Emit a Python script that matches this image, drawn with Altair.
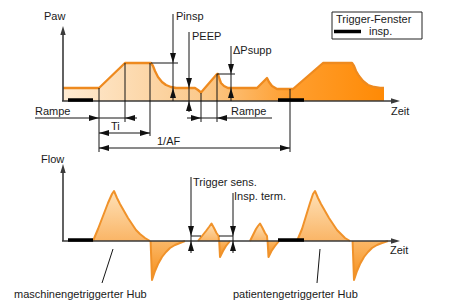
import altair as alt
import pandas as pd

W, H = 450, 304
FONT = "Liberation Sans"

# ---------------- data (diagram units: time -> x, level -> y, screen-down) -------------
# Airway pressure curve
paw_t = [63, 99, 125, 151, 153, 155, 158, 162, 166, 171, 176, 195, 198, 201,
         217, 218, 219.5, 221, 224, 228, 257, 267, 269, 272, 277, 293, 323, 352,
         354, 356, 359, 363, 368, 374, 380, 384]
paw_y = [88, 88, 63, 63, 66, 71, 77, 82, 85, 87, 88, 88, 90, 92.5,
         74, 74, 79, 83, 86, 88, 88, 78, 82, 86, 89, 89, 63, 63,
         66, 71, 76, 81, 85, 87, 88, 88]
paw_base = 101

# Flow curve segments (positive humps / negative lobes)
hump1_t = [93, 98, 103, 108, 112, 114, 117, 120, 124, 128, 132, 136, 140, 145, 150]
hump1_y = [241, 229, 216, 203, 194, 191, 198, 204, 211, 218, 224, 230, 234, 238, 241]
neg1_t = [150.6, 152, 155, 158, 162, 166, 170, 175, 180, 185]
neg1_y = [241, 280, 271, 264, 257, 252, 248, 245, 243, 241]
humpA_t = [198, 202, 206, 209, 211.5, 214, 216.5, 218.6, 219]
humpA_y = [241, 236, 231, 227, 223.5, 228, 233, 236, 241]
negA_t = [219.2, 220, 223, 226, 230]
negA_y = [241, 257, 251, 246, 241]
humpB_t = [250, 253, 256, 258, 260, 262.5, 265, 267, 267.4]
humpB_y = [241, 235, 229, 226, 223.5, 228, 233, 236, 241]
negB_t = [267.6, 268.5, 271.5, 275, 279]
negB_y = [241, 257, 251, 246, 241]
hump2_t = [297, 302, 306, 310, 313, 315, 318, 321, 325, 329, 333, 337, 341, 345, 350]
hump2_y = [241, 229, 216, 203, 194, 191, 198, 204, 211, 218, 224, 230, 234, 238, 241]
neg2_t = [352.6, 354, 357, 360, 364, 368, 372, 377, 382, 388]
neg2_y = [241, 280, 271, 264, 257, 252, 248, 245, 243, 241]
flow_base = 241

# Axes (x, y, x2, y2)
axis_x = [63, 62, 63, 62]
axis_y = [30, 101, 168, 241]
axis_x2 = [63, 395, 63, 395]
axis_y2 = [101, 101, 241, 241]

# Annotation / dimension lines
ann_x = [173, 151, 189, 231, 217, 99, 125, 150, 201, 217, 290, 35, 99, 99, 187,
         191, 191, 233, 219, 113, 320]
ann_y = [14, 63, 32, 46, 74, 88, 63, 63, 93, 74, 89, 118, 133, 148, 118,
         177, 236, 193, 236, 249, 249]
ann_x2 = [173, 178, 189, 231, 235, 99, 125, 150, 201, 217, 290, 137, 150, 290, 272,
          191, 201, 233, 233, 102, 317]
ann_y2 = [101, 63, 112, 101, 74, 152, 122, 136, 122, 122, 152, 118, 133, 148, 118,
          253, 236, 253, 236, 283, 283]

# Trigger windows (black bars)
bar_x = [68, 278, 68, 278, 334]
bar_x2 = [93, 304, 93, 304, 361]
bar_y = [100, 100, 240, 240, 31.5]

# Arrow heads (tip position, direction)
arr_x = [63, 400, 63, 400, 173, 173, 189, 189, 231, 231, 99, 125, 99, 150, 99, 290,
         201, 217, 191, 191, 233, 233]
arr_y = [26, 101, 164, 241, 63, 88, 88, 101, 74, 88, 118, 118, 133, 133, 148, 148,
         118, 118, 236, 241, 236, 241]
arr_dir = ["up", "right", "up", "right", "down", "up", "down", "up", "down", "up",
           "right", "left", "left", "right", "left", "right", "right", "left",
           "down", "up", "down", "up"]
arr_kind = ["axis"] * 4 + ["dim"] * 18

# Labels
lab_text = ["Paw", "Pinsp", "PEEP", "\u0394Psupp", "Rampe", "Ti", "1/AF", "Rampe",
            "Zeit", "Flow", "Trigger sens.", "Insp. term.", "Zeit",
            "maschinengetriggerter Hub", "patientengetriggerter Hub",
            "Trigger-Fenster", "insp."]
lab_x = [44, 176, 192, 233, 35, 111, 157, 231, 391, 41, 193, 234, 390, 14, 233, 336, 369]
lab_y = [17, 17, 37, 51, 112, 127, 142, 112, 112, 160, 183, 197, 251, 295, 295, 20, 32]

# Legend frame
leg_x, leg_y, leg_x2, leg_y2 = [332], [12], [422], [39]

# ---------------- chart ----------------
xs = alt.Scale(domain=[0, W], nice=False, zero=False)
ys = alt.Scale(domain=[0, H], nice=False, zero=False, reverse=True)


def X(f):
    return alt.X(f"{f}:Q", scale=xs, axis=None)


def Y(f):
    return alt.Y(f"{f}:Q", scale=ys, axis=None)


paw = pd.DataFrame({"t": paw_t, "y": paw_y, "base": paw_base})

segs = []
for name, kind, tt, yy in [
    ("h1", "pos", hump1_t, hump1_y), ("n1", "neg", neg1_t, neg1_y),
    ("hA", "pos", humpA_t, humpA_y), ("nA", "neg", negA_t, negA_y),
    ("hB", "pos", humpB_t, humpB_y), ("nB", "neg", negB_t, negB_y),
    ("h2", "pos", hump2_t, hump2_y), ("n2", "neg", neg2_t, neg2_y),
]:
    for a, b in zip(tt, yy):
        segs.append({"seg": name, "kind": kind, "t": a, "y": b, "base": flow_base})
flow = pd.DataFrame(segs)

paw_grad = alt.Gradient(
    gradient="linear",
    stops=[alt.GradientStop(offset=0, color="#FEEBD3"),
           alt.GradientStop(offset=0.45, color="#FBC889"),
           alt.GradientStop(offset=0.7, color="#FF9F30"),
           alt.GradientStop(offset=1, color="#FF8A05")],
    x1=0, x2=1, y1=0, y2=0)
pos_grad = alt.Gradient(
    gradient="linear",
    stops=[alt.GradientStop(offset=0, color="#FEE1B8"),
           alt.GradientStop(offset=1, color="#FAB566")],
    x1=0, x2=0, y1=0, y2=1)
neg_grad = alt.Gradient(
    gradient="linear",
    stops=[alt.GradientStop(offset=0, color="#FBB868"),
           alt.GradientStop(offset=1, color="#F68E18")],
    x1=0, x2=0, y1=0, y2=1)

ORANGE = "#EE8A1F"

paw_area = alt.Chart(paw).mark_area(fill=paw_grad, interpolate="linear").encode(
    x=X("t"), y=Y("y"), y2="base:Q")
paw_line = alt.Chart(paw).mark_line(color=ORANGE, strokeWidth=2.3, strokeJoin="round").encode(
    x=X("t"), y=Y("y"))

pos_area = alt.Chart(flow).transform_filter("datum.kind == 'pos'").mark_area(
    fill=pos_grad).encode(x=X("t"), y=Y("y"), y2="base:Q", detail="seg:N")
neg_area = alt.Chart(flow).transform_filter("datum.kind == 'neg'").mark_area(
    fill=neg_grad).encode(x=X("t"), y=Y("y"), y2="base:Q", detail="seg:N")
flow_line = alt.Chart(flow).mark_line(color="#F0922A", strokeWidth=2, strokeJoin="round").encode(
    x=X("t"), y=Y("y"), detail="seg:N")

axes = alt.Chart(pd.DataFrame({"x": axis_x, "y": axis_y, "x2": axis_x2, "y2": axis_y2})).mark_rule(
    color="#3a3a3a", strokeWidth=1.6).encode(x=X("x"), y=Y("y"), x2="x2:Q", y2="y2:Q")

ann = alt.Chart(pd.DataFrame({"x": ann_x, "y": ann_y, "x2": ann_x2, "y2": ann_y2})).mark_rule(
    color="#151515", strokeWidth=1).encode(x=X("x"), y=Y("y"), x2="x2:Q", y2="y2:Q")

legend_box = alt.Chart(pd.DataFrame({"x": leg_x, "y": leg_y, "x2": leg_x2, "y2": leg_y2})).mark_rect(
    fill="white", stroke="#222222", strokeWidth=1).encode(x=X("x"), y=Y("y"), x2="x2:Q", y2="y2:Q")

bars = alt.Chart(pd.DataFrame({"x": bar_x, "x2": bar_x2, "y": bar_y})).mark_rule(
    color="#000000", strokeWidth=3.5).encode(x=X("x"), x2="x2:Q", y=Y("y"))

shapes = {
    "right": "M0,0L-1,-0.3L-1,0.3Z",
    "left": "M0,0L1,-0.3L1,0.3Z",
    "up": "M0,0L-0.3,1L0.3,1Z",
    "down": "M0,0L-0.3,-1L0.3,-1Z",
}
arr = pd.DataFrame({"x": arr_x, "y": arr_y, "dir": arr_dir, "kind": arr_kind})
arr["shape"] = arr["dir"].map(shapes)
arrows = alt.Chart(arr).mark_point(filled=True, opacity=1, strokeWidth=0).encode(
    x=X("x"), y=Y("y"),
    shape=alt.Shape("shape:N", scale=None),
    size=alt.Size("kind:N", scale=alt.Scale(domain=["axis", "dim"], range=[324, 400]), legend=None),
    color=alt.Color("kind:N", scale=alt.Scale(domain=["axis", "dim"], range=["#3a3a3a", "#111111"]), legend=None),
)

labels = alt.Chart(pd.DataFrame({"text": lab_text, "x": lab_x, "y": lab_y})).mark_text(
    align="left", baseline="middle", font=FONT, fontSize=11, color="#1a1a1a").encode(
    x=X("x"), y=Y("y"), text="text:N")

chart = alt.layer(
    paw_area, paw_line, pos_area, neg_area, flow_line,
    axes, ann, legend_box, bars, arrows, labels
).properties(width=W, height=H, padding=0, autosize="none", background="white").configure_view(stroke=None)

chart.save("out.html", embed_options={"renderer": "svg", "actions": False})
